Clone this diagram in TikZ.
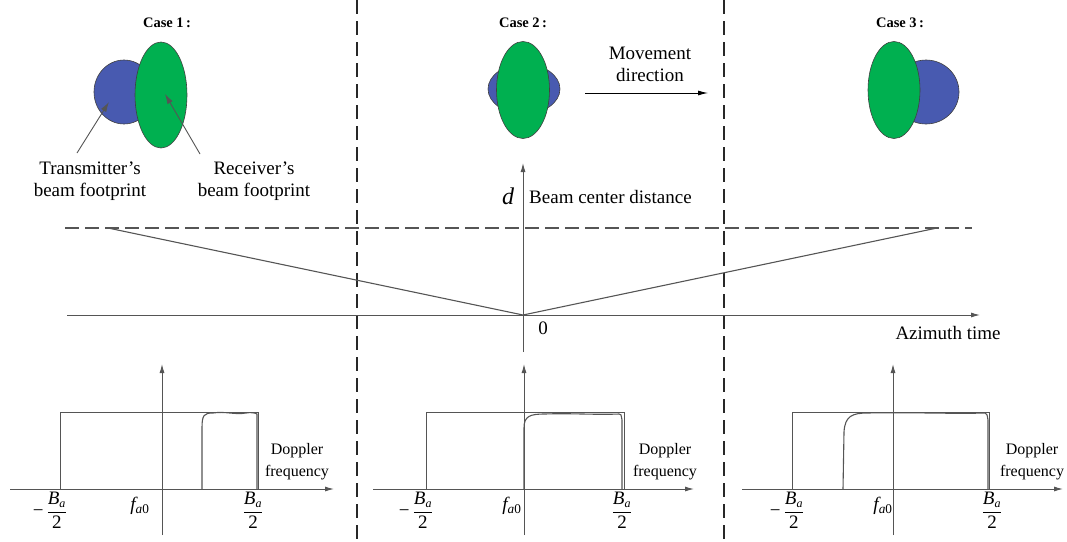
\documentclass[tikz,border=0pt]{standalone}
\usepackage{fontspec}
\setmainfont{Liberation Serif}
\usetikzlibrary{shapes.geometric,arrows.meta}
\definecolor{bfoot}{RGB}{72,90,176}
\definecolor{gfoot}{RGB}{0,176,80}
\definecolor{axc}{RGB}{85,85,85}
\definecolor{sepc}{RGB}{40,40,40}
\newcommand{\myBa}{\mbox{\itshape B}_{\mbox{\fontsize{12}{12}\selectfont\itshape a}}}
\newcommand{\myfrac}{$\displaystyle\frac{\myBa}{\mbox{2}}$}
\newcommand{\myfa}{\mbox{\itshape f}\textsubscript{\itshape a\upshape 0}}
\tikzset{
  lbl/.style={font=\rmfamily\fontsize{19}{22}\selectfont, align=center, inner sep=0pt},
  small/.style={font=\rmfamily\fontsize{16}{22}\selectfont, align=center, inner sep=0pt},
  casel/.style={font=\rmfamily\fontsize{14.5}{16}\selectfont\bfseries, inner sep=0pt},
  gell/.style={ellipse, draw=black!75, fill=gfoot, line width=0.6pt, inner sep=0pt},
  bell/.style={ellipse, draw=black!75, fill=bfoot, line width=0.6pt, inner sep=0pt},
  sep/.style={draw=sepc, line width=2.2pt, dash pattern=on 14pt off 7pt},
  axis/.style={draw=axc, line width=1pt, -{Latex[length=9pt,width=5pt]}},
  thin/.style={draw=axc, line width=0.9pt},
  ptr/.style={draw=axc, line width=0.9pt, -{Latex[length=10pt,width=6pt]}},
  fr/.style={font=\rmfamily\fontsize{19}{22}\selectfont, inner sep=0pt},
}
\begin{document}
\begin{tikzpicture}[x=1pt,y=-1pt]
\useasboundingbox (0,0) rectangle (1067,541);

% separators
\draw[sep] (357,0) -- (357,541);
\draw[sep] (724,0) -- (724,541);

% Case labels
\node[casel] (c1) at (167,23) {Case 1\,:};
\node[casel] (c2) at (523,23) {Case 2\,:};
\node[casel] (c3) at (900,23) {Case 3\,:};

% Case 1 footprints
\node[bell, minimum width=60, minimum height=64] (b1) at (124,92) {};
\node[gell, minimum width=52, minimum height=106] (g1) at (161,95) {};
% Case 2
\node[bell, minimum width=72, minimum height=50] (b2) at (524,89) {};
\node[gell, minimum width=53, minimum height=97] (g2) at (523,90) {};
% Case 3
\node[bell, minimum width=66, minimum height=64] (b3) at (926,92) {};
\node[gell, minimum width=52, minimum height=97] (g3) at (894,90) {};

% footprint labels
\node[lbl] (tx) at (90,181) {Transmitter's\\beam footprint};
\node[lbl] (rx) at (254,181) {Receiver's\\beam footprint};
\coordinate (txp) at (109,102);
\coordinate (rxp) at (165,94);
\draw[ptr] (77,153) -- (txp);
\draw[ptr] (200,154) -- (rxp);

% movement direction
\node[lbl] (mv) at (650,64) {Movement\\direction};
\coordinate (mvs) at (585,93);
\coordinate (mve) at (708,93);
\draw[draw=black, line width=0.9pt, -{Latex[length=10pt,width=5pt]}] (mvs) -- (mve);

% middle graph
\coordinate (o) at (523,315);
\coordinate (dtop) at (523,163);
\coordinate (dbot) at (523,352);
\coordinate (tl) at (67,315);
\coordinate (tr) at (980,315);
\draw[axis] (dbot) -- (dtop);
\draw[axis] (tl) -- (tr);
\draw[draw=axc, line width=1.1pt, dash pattern=on 14pt off 6pt] (65,228) -- (972,228);
\coordinate (vl) at (108,228);
\coordinate (vr) at (937,228);
\draw[thin, line width=1.1pt] (vl) -- (o) -- (vr);
\node[font=\rmfamily\fontsize{24}{24}\selectfont\itshape, inner sep=0pt] (dl) at (508,196) {d};
\node[lbl, anchor=west] (bcd) at (529,197) {Beam center distance};
\node[lbl] (zero) at (543,328) {0};
\node[lbl] (az) at (948,333) {Azimuth time};

% ---- Plot 1
\draw[axis] (10,489) -- (334,489);
\draw[axis] (162,535) -- (162,364);
\draw[thin] (60,489) -- (60,412) -- (258,412) -- (258,489);
\draw[thin, line width=1.1pt] (202,489) -- (202,428) .. controls (202,415) and (204,413) .. (213,413)
  .. controls (225,411) and (235,415) .. (246,413) .. controls (250,412) and (256,413) .. (257,414) -- (257,489);
\node[fr] (m1) at (50,510) {−\,\myfrac};
\node[fr] (f1) at (140,506) {\myfa};
\node[fr] (p1) at (253,510) {\myfrac};
\node[small] (dp1) at (297,462) {Doppler\\frequency};

% ---- Plot 2
\draw[axis] (373,489) -- (694,489);
\draw[axis] (524,535) -- (524,364);
\draw[thin] (426,489) -- (426,412) -- (624,412) -- (624,489);
\draw[thin, line width=1.1pt] (524,489) -- (524,428) .. controls (524,416) and (530,414) .. (545,414)
  .. controls (570,413) and (595,415) .. (619,414) .. controls (621,414) .. (622,420) -- (622,489);
\node[fr] (m2) at (416,510) {−\,\myfrac};
\node[fr] (f2) at (512,506) {\myfa};
\node[fr] (p2) at (622,510) {\myfrac};
\node[small] (dp2) at (665,462) {Doppler\\frequency};

% ---- Plot 3
\draw[axis] (742,489) -- (1063,489);
\draw[axis] (893,535) -- (893,364);
\draw[thin] (792,489) -- (792,412) -- (989,412) -- (989,489);
\draw[thin, line width=1.1pt] (843,489) -- (844,432) .. controls (845,416) and (852,413) .. (868,413)
  .. controls (910,412) and (950,414) .. (985,413) .. controls (987,414) .. (988,420) -- (988,489);
\node[fr] (m3) at (787,510) {−\,\myfrac};
\node[fr] (f3) at (883,506) {\myfa};
\node[fr] (p3) at (992,510) {\myfrac};
\node[small] (dp3) at (1032,462) {Doppler\\frequency};
\end{tikzpicture}
\end{document}
